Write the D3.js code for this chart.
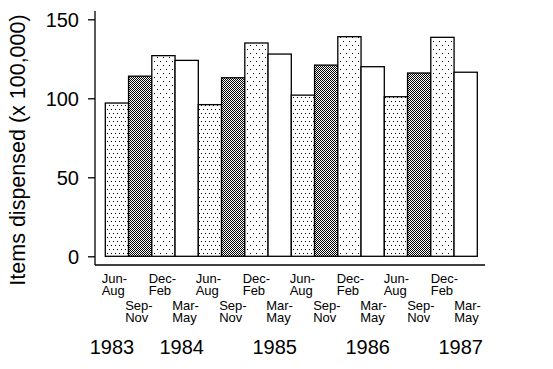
<!DOCTYPE html>
<html lang="en">
<head>
<meta charset="UTF-8">
<title>Items dispensed</title>
<script src="https://cdnjs.cloudflare.com/ajax/libs/d3/7.8.5/d3.min.js"></script>
<style>
  body { margin: 0; background: #fff; }
  text { font-family: "Liberation Sans", Arial, sans-serif; fill: #000; }
</style>
</head>
<body>
<div id="chart"></div>
<script>
// seasons in order, one bar each
const seasons = ['Jun-Aug', 'Sep-Nov', 'Dec-Feb', 'Mar-May'];
const labelsTop = ['Jun-', 'Sep-', 'Dec-', 'Mar-'];
const labelsBottom = ['Aug', 'Nov', 'Feb', 'May'];
// values (x 100,000), four seasons per year
const values = [97, 114, 127, 124, 96, 113, 135, 128, 102, 121, 139, 120, 101, 116, 138.6, 116.5];
// year labels and which bar they sit under
const years = ['1983', '1984', '1985', '1986', '1987'];
const yearBars = [0, 3, 7, 11, 15];
const yTicks = [0, 50, 100, 150];

const width = 553, height = 369;
const svg = d3.select('#chart').append('svg')
  .attr('width', width)
  .attr('height', height);

// fill patterns
const defs = svg.append('defs');
function dots(id, w, h, pts) {
  const p = defs.append('pattern').attr('id', id)
    .attr('patternUnits', 'userSpaceOnUse')
    .attr('width', w).attr('height', h);
  p.append('rect').attr('width', w).attr('height', h).attr('fill', '#fff');
  pts.forEach(function (d) {
    p.append('rect').attr('x', d[0]).attr('y', d[1])
      .attr('width', 1).attr('height', 1).attr('fill', '#000');
  });
}
dots('p0', 4, 8, [[1, 1], [3, 5]]);
dots('p1', 2, 2, [[0, 0], [1, 1]]);
dots('p2', 6, 8, [[1, 1], [4, 5]]);
const fills = ['url(#p0)', 'url(#p1)', 'url(#p2)', '#fff'];

const idx = d3.range(values.length);
const x = d3.scaleBand().domain(idx).range([105.3, 477.3]).padding(0);
// labels are spaced a touch wider than the bars
const xl = d3.scaleBand().domain(idx).range([101.7, 477.7]).padding(0);
const y = d3.scaleLinear().domain([0, 150]).range([256.3, 19.3]);

// bars
svg.selectAll('rect.bar')
  .data(values)
  .enter()
  .append('rect')
  .attr('class', 'bar')
  .attr('x', function (d, i) { return x(i); })
  .attr('y', function (d) { return y(d); })
  .attr('width', x.bandwidth())
  .attr('height', function (d) { return y(0) - y(d); })
  .attr('fill', function (d, i) { return fills[i % 4]; })
  .attr('stroke', '#000')
  .attr('stroke-width', 1.3);

// y axis
const yAxis = svg.append('g')
  .attr('transform', 'translate(95,0)')
  .call(d3.axisLeft(y).tickValues(yTicks).tickSize(7).tickPadding(9));
yAxis.select('.domain').remove();
yAxis.selectAll('line').attr('stroke', '#000').attr('stroke-width', 1.3);
yAxis.selectAll('text')
  .style('font-family', '"Liberation Sans", Arial, sans-serif')
  .style('font-size', '20px')
  .attr('dy', '0.36em');

// axis frame lines
svg.append('line')
  .attr('x1', 95).attr('x2', 95).attr('y1', 11).attr('y2', 265)
  .attr('stroke', '#000').attr('stroke-width', 1.3);
svg.append('line')
  .attr('x1', 95).attr('x2', 485).attr('y1', 265).attr('y2', 265)
  .attr('stroke', '#000').attr('stroke-width', 1.3);

// season labels, alternating rows
const lab = svg.selectAll('g.lab')
  .data(values)
  .enter()
  .append('g')
  .attr('class', 'lab')
  .attr('transform', function (d, i) {
    return 'translate(' + xl(i) + ',' + (i % 2 === 0 ? 283 : 310) + ')';
  })
  .style('font-size', '13px');
lab.append('text').text(function (d, i) { return labelsTop[i % 4]; });
lab.append('text').attr('y', 11.5).text(function (d, i) { return labelsBottom[i % 4]; });

// years
svg.selectAll('text.year')
  .data(years)
  .enter()
  .append('text')
  .attr('class', 'year')
  .attr('x', function (d, i) { return x(yearBars[i]) + x.bandwidth() / 2 - 5; })
  .attr('y', 354)
  .attr('text-anchor', 'middle')
  .style('font-size', '20px')
  .text(function (d) { return d; });

// y title
svg.append('text')
  .attr('transform', 'translate(25,150) rotate(-90)')
  .attr('text-anchor', 'middle')
  .style('font-size', '21.5px')
  .text('Items dispensed (x 100,000)');
</script>
</body>
</html>
